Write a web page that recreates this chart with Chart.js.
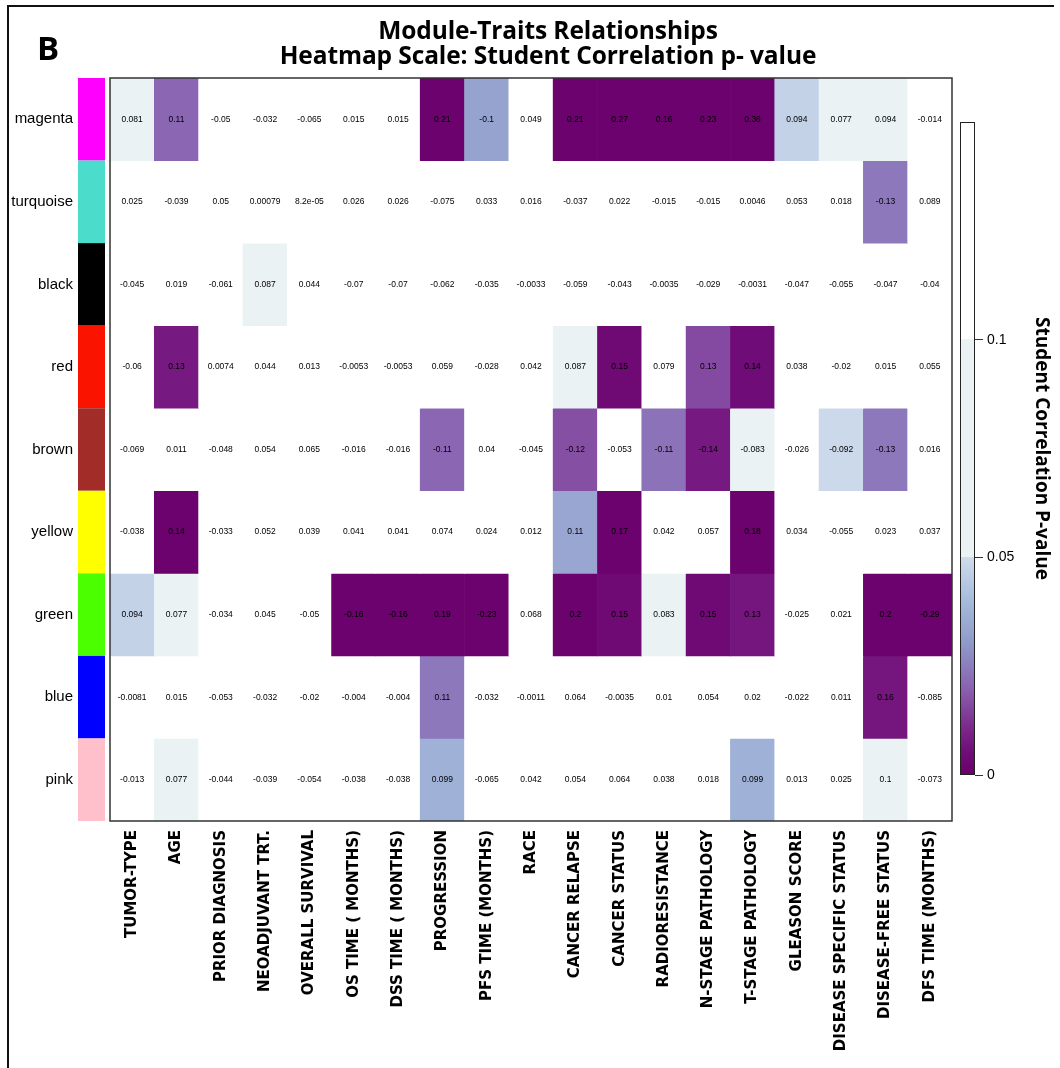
<!DOCTYPE html>
<html>
<head>
<meta charset="utf-8">
<script src="https://cdn.jsdelivr.net/npm/chart.js@4.4.1/dist/chart.umd.min.js"></script>
<style>
  html, body { margin: 0; padding: 0; background: #fff; }
  #page { position: relative; width: 1060px; height: 1068px; overflow: hidden; }
  #frame { position: absolute; left: 7px; top: 5px; width: 1045px; height: 1070px;
           border-top: 2px solid #111; border-left: 2px solid #111; }
  #panel { position: absolute; left: 37px; top: 31px; font: bold 33px 'Open Sans', sans-serif; line-height: 33px; color: #000; }
  #title { position: absolute; left: 36px; width: 1024px; top: 17px; text-align: center;
           font: bold 24.5px 'Open Sans', sans-serif; line-height: 25px; color: #000; letter-spacing: -0.1px; }
  #heatmap { position: absolute; left: 0; top: 0; }
  #scalebar { position: absolute; left: 940px; top: 0; }
</style>
</head>
<body>
<div id="page">
  <div id="frame"></div>
  <canvas id="heatmap" width="1060" height="1068"></canvas>
  <canvas id="scalebar" width="120" height="1068"></canvas>
  <div id="panel">B</div>
  <div id="title">Module-Traits Relationships<br>Heatmap Scale: Student Correlation p- value</div>
</div>
<script>
// modules (rows) and clinical traits (columns)
const modules = ['magenta', 'turquoise', 'black', 'red', 'brown', 'yellow', 'green', 'blue', 'pink'];
const moduleColors = ['#ff00ff', '#4cdccb', '#000000', '#fa1400', '#a22c27', '#ffff00', '#4cff00', '#0000ff', '#ffc0cb'];
const traits = ['TUMOR-TYPE', 'AGE', 'PRIOR DIAGNOSIS', 'NEOADJUVANT TRT.', 'OVERALL SURVIVAL',
  'OS TIME ( MONTHS)', 'DSS TIME ( MONTHS)', 'PROGRESSION', 'PFS TIME (MONTHS)', 'RACE',
  'CANCER RELAPSE', 'CANCER STATUS', 'RADIORESISTANCE', 'N-STAGE PATHOLOGY', 'T-STAGE PATHOLOGY',
  'GLEASON SCORE', 'DISEASE SPECIFIC STATUS', 'DISEASE-FREE STATUS', 'DFS TIME (MONTHS)'];

// correlation written in each cell
const corMagenta   = [0.081, 0.11, -0.05, -0.032, -0.065, 0.015, 0.015, 0.21, -0.1, 0.049, 0.21, 0.27, 0.16, 0.23, 0.36, 0.094, 0.077, 0.094, -0.014];
const corTurquoise = [0.025, -0.039, 0.05, 0.00079, 8.2e-05, 0.026, 0.026, -0.075, 0.033, 0.016, -0.037, 0.022, -0.015, -0.015, 0.0046, 0.053, 0.018, -0.13, 0.089];
const corBlack     = [-0.045, 0.019, -0.061, 0.087, 0.044, -0.07, -0.07, -0.062, -0.035, -0.0033, -0.059, -0.043, -0.0035, -0.029, -0.0031, -0.047, -0.055, -0.047, -0.04];
const corRed       = [-0.06, 0.13, 0.0074, 0.044, 0.013, -0.0053, -0.0053, 0.059, -0.028, 0.042, 0.087, 0.15, 0.079, 0.13, 0.14, 0.038, -0.02, 0.015, 0.055];
const corBrown     = [-0.069, 0.011, -0.048, 0.054, 0.065, -0.016, -0.016, -0.11, 0.04, -0.045, -0.12, -0.053, -0.11, -0.14, -0.083, -0.026, -0.092, -0.13, 0.016];
const corYellow    = [-0.038, 0.14, -0.033, 0.052, 0.039, 0.041, 0.041, 0.074, 0.024, 0.012, 0.11, 0.17, 0.042, 0.057, 0.18, 0.034, -0.055, 0.023, 0.037];
const corGreen     = [0.094, 0.077, -0.034, 0.045, -0.05, -0.16, -0.16, 0.19, -0.23, 0.068, 0.2, 0.15, 0.083, 0.15, 0.13, -0.025, 0.021, 0.2, -0.29];
const corBlue      = [-0.0081, 0.015, -0.053, -0.032, -0.02, -0.004, -0.004, 0.11, -0.032, -0.0011, 0.064, -0.0035, 0.01, 0.054, 0.02, -0.022, 0.011, 0.16, -0.085];
const corPink      = [-0.013, 0.077, -0.044, -0.039, -0.054, -0.038, -0.038, 0.099, -0.065, 0.042, 0.054, 0.064, 0.038, 0.018, 0.099, 0.013, 0.025, 0.1, -0.073];

// student p-value of each correlation (sets the cell colour)
const pMagenta   = [0.07, 0.021, 0.5, 0.5, 0.5, 0.5, 0.5, 0.001, 0.033, 0.5, 0.001, 0.001, 0.001, 0.001, 0.001, 0.047, 0.07, 0.07, 0.5];
const pTurquoise = [0.5, 0.5, 0.5, 0.5, 0.5, 0.5, 0.5, 0.5, 0.5, 0.5, 0.5, 0.5, 0.5, 0.5, 0.5, 0.5, 0.5, 0.024, 0.5];
const pBlack     = [0.5, 0.5, 0.5, 0.07, 0.5, 0.5, 0.5, 0.5, 0.5, 0.5, 0.5, 0.5, 0.5, 0.5, 0.5, 0.5, 0.5, 0.5, 0.5];
const pRed       = [0.5, 0.008, 0.5, 0.5, 0.5, 0.5, 0.5, 0.5, 0.5, 0.5, 0.07, 0.004, 0.5, 0.016, 0.005, 0.5, 0.5, 0.5, 0.5];
const pBrown     = [0.5, 0.5, 0.5, 0.5, 0.5, 0.5, 0.5, 0.021, 0.5, 0.5, 0.017, 0.5, 0.023, 0.008, 0.07, 0.5, 0.049, 0.024, 0.5];
const pYellow    = [0.5, 0.001, 0.5, 0.5, 0.5, 0.5, 0.5, 0.5, 0.5, 0.5, 0.034, 0.001, 0.5, 0.5, 0.001, 0.5, 0.5, 0.5, 0.5];
const pGreen     = [0.047, 0.07, 0.5, 0.5, 0.5, 0.001, 0.001, 0.001, 0.001, 0.5, 0.001, 0.004, 0.07, 0.004, 0.007, 0.5, 0.5, 0.001, 0.001];
const pBlue      = [0.5, 0.5, 0.5, 0.5, 0.5, 0.5, 0.5, 0.024, 0.5, 0.5, 0.5, 0.5, 0.5, 0.5, 0.5, 0.5, 0.5, 0.007, 0.5];
const pPink      = [0.5, 0.07, 0.5, 0.5, 0.5, 0.5, 0.5, 0.037, 0.5, 0.5, 0.5, 0.5, 0.5, 0.5, 0.037, 0.5, 0.5, 0.07, 0.5];

// colour bar
const scaleMax = 0.15;
const scaleTicks = [0, 0.05, 0.1];

const corRows = [corMagenta, corTurquoise, corBlack, corRed, corBrown, corYellow, corGreen, corBlue, corPink];
const pRows = [pMagenta, pTurquoise, pBlack, pRed, pBrown, pYellow, pGreen, pBlue, pPink];

// purple -> blue -> pale for p in [0, 0.05]
const pStops = [
  [0, '#6a006a'], [0.005, '#700c78'], [0.01, '#7a2488'], [0.02, '#8a62b0'],
  [0.03, '#8f98c9'], [0.04, '#a6bbdc'], [0.05, '#cfdceb']
];
const paleColor = '#eaf2f4';

function hexRgb(h) {
  return [parseInt(h.slice(1, 3), 16), parseInt(h.slice(3, 5), 16), parseInt(h.slice(5, 7), 16)];
}

function pColor(p) {
  if (p > 0.1) return '#ffffff';
  if (p > 0.05) return paleColor;
  for (let i = 1; i < pStops.length; i++) {
    if (p <= pStops[i][0]) {
      const [p0, c0] = pStops[i - 1];
      const [p1, c1] = pStops[i];
      const t = (p - p0) / (p1 - p0);
      const a = hexRgb(c0), b = hexRgb(c1);
      const mix = a.map((v, k) => Math.round(v + (b[k] - v) * t));
      return 'rgb(' + mix.join(',') + ')';
    }
  }
  return pStops[pStops.length - 1][1];
}

// R style signif() output: 8.2e-05, 0.00079, -0.0053
function fmt(v) {
  if (v !== 0 && Math.abs(v) < 1e-4) {
    const parts = v.toExponential(1).split('e');
    const sign = parts[1][0];
    return parts[0] + 'e' + sign + parts[1].slice(1).padStart(2, '0');
  }
  return String(v);
}

// cell texts, outer box and the module colour strip
const heatmapDecor = {
  id: 'heatmapDecor',
  afterDatasetsDraw(chart) {
    const { ctx, chartArea: a, scales } = chart;
    ctx.save();
    ctx.font = '8.5px "Liberation Sans", Arial, sans-serif';
    ctx.fillStyle = '#000';
    ctx.textAlign = 'center';
    ctx.textBaseline = 'middle';
    chart.data.datasets.forEach((ds, r) => {
      chart.getDatasetMeta(r).data.forEach((bar, c) => {
        const pt = bar.getCenterPoint();
        ctx.fillText(fmt(corRows[r][c]), pt.x, pt.y);
      });
    });

    ctx.strokeStyle = '#333';
    ctx.lineWidth = 1.5;
    ctx.strokeRect(a.left, a.top, a.right - a.left, a.bottom - a.top);

    const rs = scales.rows;
    const half = (rs.getPixelForValue(1) - rs.getPixelForValue(0)) / 2;
    modules.forEach((m, i) => {
      const yc = rs.getPixelForValue(i);
      ctx.fillStyle = moduleColors[i];
      ctx.fillRect(a.left - 32, yc - half, 27, half * 2);
    });
    ctx.restore();
  }
};

new Chart(document.getElementById('heatmap').getContext('2d'), {
  type: 'bar',
  data: {
    labels: traits,
    datasets: modules.map((m, r) => ({
      label: m,
      data: traits.map(() => [r, r + 1]),
      backgroundColor: pRows[r].map(pColor),
      borderWidth: 0,
      barPercentage: 1,
      categoryPercentage: 1,
      grouped: false
    }))
  },
  options: {
    responsive: false,
    animation: false,
    layout: { padding: { top: 78, right: 108, bottom: 0, left: 0 } },
    plugins: {
      legend: { display: false },
      tooltip: { enabled: false }
    },
    scales: {
      x: {
        grid: { display: false, drawTicks: false },
        border: { display: false },
        ticks: {
          autoSkip: false,
          minRotation: 90,
          maxRotation: 90,
          padding: 9,
          color: '#000',
          font: { family: 'DejaVu Sans', weight: 'bold', size: 15 }
        },
        afterFit: s => { s.height = 247; }
      },
      y: { type: 'linear', min: 0, max: 9, reverse: true, display: false },
      rows: {
        type: 'category',
        labels: modules,
        position: 'left',
        offset: true,
        grid: { display: false, drawTicks: false },
        border: { display: false },
        ticks: {
          padding: 37,
          color: '#000',
          font: { family: 'Liberation Sans', size: 15 }
        },
        afterFit: s => { s.width = 110; }
      }
    }
  },
  plugins: [heatmapDecor]
});

// colour bar on the right
const barBox = {
  id: 'barBox',
  afterDatasetsDraw(chart) {
    const { ctx, chartArea: a } = chart;
    ctx.save();
    ctx.strokeStyle = '#222';
    ctx.lineWidth = 1;
    ctx.strokeRect(a.left + 0.5, a.top + 0.5, a.right - a.left - 1, a.bottom - a.top - 1);
    ctx.restore();
  }
};

function barGradient(context) {
  const chart = context.chart;
  const a = chart.chartArea;
  if (!a) return null;
  const g = chart.ctx.createLinearGradient(0, a.bottom, 0, a.top);
  pStops.forEach(([p, c]) => g.addColorStop(p / scaleMax, c));
  g.addColorStop(0.05 / scaleMax + 0.001, paleColor);
  g.addColorStop(0.1 / scaleMax, paleColor);
  g.addColorStop(0.1 / scaleMax + 0.001, '#ffffff');
  g.addColorStop(1, '#ffffff');
  return g;
}

new Chart(document.getElementById('scalebar').getContext('2d'), {
  type: 'bar',
  data: {
    labels: [''],
    datasets: [{
      data: [[0, scaleMax]],
      backgroundColor: barGradient,
      borderWidth: 0,
      barPercentage: 1,
      categoryPercentage: 1
    }]
  },
  options: {
    responsive: false,
    animation: false,
    layout: { padding: { top: 122, bottom: 293, left: 20, right: 0 } },
    plugins: {
      legend: { display: false },
      tooltip: { enabled: false }
    },
    scales: {
      x: { display: false },
      y: {
        position: 'right',
        min: 0,
        max: scaleMax,
        afterBuildTicks: s => { s.ticks = scaleTicks.map(v => ({ value: v })); },
        grid: { drawOnChartArea: false, tickLength: 8, color: '#333' },
        border: { display: false },
        ticks: {
          callback: v => String(v),
          padding: 4,
          color: '#000',
          font: { family: 'Liberation Sans', size: 14 }
        },
        title: {
          display: true,
          text: 'Student Correlation P-value',
          color: '#000',
          font: { family: 'Open Sans', weight: 'bold', size: 19 },
          padding: { top: 7, bottom: 0 }
        },
        afterFit: s => { s.width = 85; }
      }
    }
  },
  plugins: [barBox]
});
</script>
</body>
</html>
